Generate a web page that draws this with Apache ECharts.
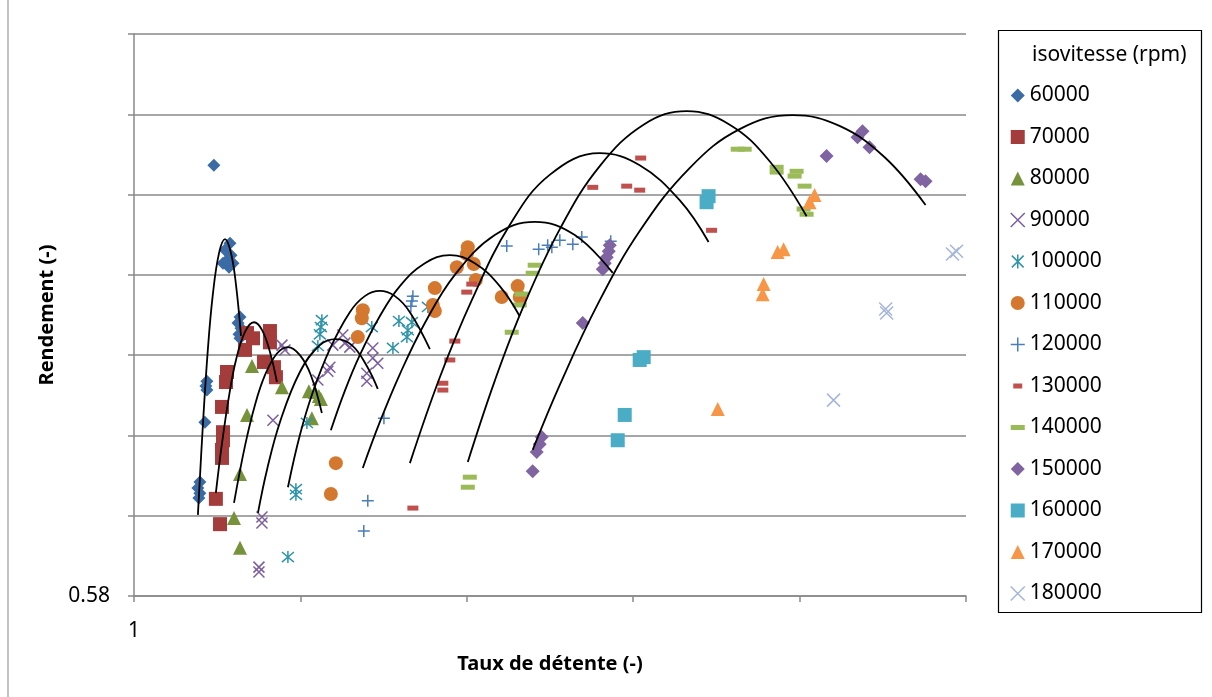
<!DOCTYPE html>
<html>
<head>
<meta charset="utf-8">
<script src="https://cdn.jsdelivr.net/npm/echarts@6/dist/echarts.min.js"></script>
<style>
html,body{margin:0;padding:0;background:#fff;}
#chart{width:1212px;height:697px;}
</style>
</head>
<body>
<div id="chart"></div>
<script>
// ---- data (x = Taux de détente, y = Rendement) ----
const speeds = ['60000','70000','80000','90000','100000','110000','120000','130000','140000','150000','160000','170000','180000'];
const legendTitle = 'isovitesse (rpm)';
const xTickLabels = ['1'];
const yTickLabels = ['0.58'];

const pts60000 = [[1.480,0.6873],[1.577,0.6679],[1.547,0.6662],[1.583,0.6649],[1.553,0.6634],[1.595,0.6629],[1.535,0.6629],[1.571,0.6619],[1.637,0.6495],[1.625,0.6480],[1.643,0.6467],[1.631,0.6452],[1.637,0.6442],[1.438,0.6335],[1.432,0.6323],[1.438,0.6313],[1.426,0.6233],[1.396,0.6084],[1.384,0.6069],[1.396,0.6056],[1.390,0.6044]];
const pts70000 = [[1.817,0.6460],[1.817,0.6432],[1.715,0.6442],[1.679,0.6455],[1.667,0.6413],[1.781,0.6383],[1.841,0.6370],[1.853,0.6345],[1.559,0.6358],[1.553,0.6333],[1.529,0.6271],[1.535,0.6208],[1.535,0.6188],[1.529,0.6164],[1.529,0.6144],[1.492,0.6042],[1.517,0.5979]];
const pts80000 = [[1.709,0.6373],[1.889,0.6320],[1.679,0.6251],[1.637,0.6104],[1.601,0.5994],[1.637,0.5920],[2.051,0.6310],[2.087,0.6308],[2.111,0.6298],[2.123,0.6291],[2.069,0.6243]];
const pts90000 = [[1.889,0.6425],[1.907,0.6413],[1.835,0.6238],[1.769,0.5997],[1.769,0.5982],[1.751,0.5872],[1.751,0.5860],[2.255,0.6450],[2.267,0.6430],[2.195,0.6425],[2.297,0.6420],[2.177,0.6370],[2.165,0.6360],[2.105,0.6338],[2.435,0.6418],[2.435,0.6393],[2.465,0.6380],[2.399,0.6355],[2.399,0.6335]];
const pts100000 = [[2.129,0.6487],[2.123,0.6470],[2.117,0.6452],[2.105,0.6423],[2.429,0.6470],[2.592,0.6485],[2.646,0.6462],[2.640,0.6445],[2.670,0.6482],[2.766,0.6520],[2.556,0.6418],[2.039,0.6231],[1.973,0.6066],[1.973,0.6052],[1.925,0.5897]];
const pts110000 = [[3.006,0.6669],[3.000,0.6652],[2.940,0.6619],[3.042,0.6627],[3.054,0.6587],[2.808,0.6567],[2.796,0.6525],[2.808,0.6510],[2.375,0.6512],[2.369,0.6492],[2.345,0.6445],[2.213,0.6131],[2.183,0.6054],[3.306,0.6572],[3.210,0.6545],[3.318,0.6545]];
const pts120000 = [[2.676,0.6547],[2.670,0.6535],[2.664,0.6522],[2.502,0.6243],[2.405,0.6037],[2.381,0.5962],[3.240,0.6672],[3.432,0.6664],[3.486,0.6674],[3.511,0.6669],[3.559,0.6686],[3.637,0.6676],[3.691,0.6694],[3.865,0.6684]];
const pts130000 = [[4.045,0.6891],[3.757,0.6818],[3.961,0.6821],[4.039,0.6811],[4.471,0.6711],[3.030,0.6577],[3.000,0.6557],[2.928,0.6435],[2.898,0.6388],[2.856,0.6330],[2.856,0.6313],[2.676,0.6019]];
const pts140000 = [[4.628,0.6913],[4.670,0.6913],[4.862,0.6868],[4.862,0.6856],[4.982,0.6858],[4.970,0.6846],[5.030,0.6821],[5.024,0.6764],[5.042,0.6751],[3.408,0.6624],[3.396,0.6604],[3.330,0.6552],[3.318,0.6525],[3.270,0.6457],[3.018,0.6096],[3.006,0.6071]];
const pts150000 = [[5.378,0.6958],[5.348,0.6943],[5.420,0.6918],[5.162,0.6896],[5.727,0.6838],[5.757,0.6833],[3.859,0.6674],[3.853,0.6659],[3.841,0.6644],[3.829,0.6629],[3.817,0.6614],[3.697,0.6480],[3.450,0.6196],[3.438,0.6178],[3.420,0.6159],[3.396,0.6111]];
const pts160000 = [[4.453,0.6796],[4.441,0.6781],[4.063,0.6395],[4.039,0.6388],[3.949,0.6251],[3.907,0.6188]];
const pts170000 = [[5.090,0.6799],[5.060,0.6781],[4.868,0.6657],[4.904,0.6664],[4.784,0.6577],[4.778,0.6552],[4.508,0.6266]];
const pts180000 = [[5.943,0.6659],[5.919,0.6652],[5.517,0.6515],[5.523,0.6505],[5.204,0.6288]];

// fitted trend curves (black)
const trend60000 = [[1.384,0.6002],[1.414,0.6226],[1.444,0.6415],[1.474,0.6552],[1.511,0.6654],[1.547,0.6689],[1.583,0.6654],[1.613,0.6575],[1.643,0.6448]];
const trend70000 = [[1.492,0.6057],[1.529,0.6181],[1.571,0.6298],[1.613,0.6388],[1.667,0.6458],[1.721,0.6482],[1.769,0.6463],[1.817,0.6408],[1.859,0.6333]];
const trend80000 = [[1.601,0.6032],[1.667,0.6174],[1.727,0.6276],[1.787,0.6350],[1.859,0.6404],[1.925,0.6420],[1.997,0.6400],[2.063,0.6350],[2.129,0.6256]];
const trend90000 = [[1.745,0.6007],[1.799,0.6114],[1.877,0.6233],[1.997,0.6358],[2.117,0.6425],[2.213,0.6440],[2.309,0.6425],[2.399,0.6373],[2.465,0.6316]];
const trend100000 = [[1.925,0.6071],[1.997,0.6201],[2.075,0.6308],[2.177,0.6415],[2.297,0.6507],[2.387,0.6547],[2.477,0.6560],[2.568,0.6547],[2.658,0.6507],[2.778,0.6415]];
const trend110000 = [[2.183,0.6213],[2.267,0.6311],[2.357,0.6400],[2.477,0.6497],[2.598,0.6572],[2.748,0.6629],[2.898,0.6649],[3.048,0.6629],[3.198,0.6572],[3.318,0.6497]];
const trend120000 = [[2.375,0.6119],[2.477,0.6233],[2.598,0.6353],[2.748,0.6480],[2.928,0.6600],[3.168,0.6699],[3.408,0.6732],[3.649,0.6699],[3.877,0.6605]];
const trend130000 = [[2.658,0.6131],[2.838,0.6345],[3.030,0.6537],[3.258,0.6724],[3.498,0.6849],[3.799,0.6903],[4.039,0.6873],[4.279,0.6786],[4.453,0.6682]];
const trend140000 = [[3.006,0.6134],[3.168,0.6336],[3.336,0.6517],[3.559,0.6714],[3.799,0.6871],[4.069,0.6976],[4.321,0.7008],[4.580,0.6974],[4.820,0.6883],[5.042,0.6746]];
const trend150000 = [[3.396,0.6164],[3.559,0.6326],[3.787,0.6527],[4.039,0.6709],[4.339,0.6866],[4.640,0.6963],[4.958,0.6998],[5.240,0.6971],[5.511,0.6893],[5.757,0.6774]];

// ---- styling ----
const FONT = 'Noto Sans';
const X_PATH = 'path://M0 0L10 10M10 0L0 10';
const PLUS_PATH = 'path://M5 0L5 10M0 5L10 5';
const STAR_PATH = 'path://M5 0L5 10M0.8 0.8L9.2 9.2M9.2 0.8L0.8 9.2';

const seriesDefs = [
  {name: speeds[0], data: pts60000, color: '#3a6ba5', symbol: 'diamond', size: 13},
  {name: speeds[1], data: pts70000, color: '#a33c3a', symbol: 'rect', size: 14},
  {name: speeds[2], data: pts80000, color: '#76933c', symbol: 'triangle', size: 14},
  {name: speeds[3], data: pts90000, color: '#7b5e9e', symbol: X_PATH, size: 11, stroke: true},
  {name: speeds[4], data: pts100000, color: '#2f93a9', symbol: STAR_PATH, size: 12, stroke: true},
  {name: speeds[5], data: pts110000, color: '#d4782f', symbol: 'circle', size: 14},
  {name: speeds[6], data: pts120000, color: '#4a7ebb', symbol: PLUS_PATH, size: 12, stroke: true},
  {name: speeds[7], data: pts130000, color: '#c0504d', symbol: 'rect', size: [11, 5], legendIcon: 'path://M0 0M14 14M2.5 4.5h9v5h-9z'},
  {name: speeds[8], data: pts140000, color: '#9bbb59', symbol: 'rect', size: [14, 5], legendIcon: 'path://M0 0M14 14M0 4.5h14v5h-14z'},
  {name: speeds[9], data: pts150000, color: '#8064a2', symbol: 'diamond', size: 14},
  {name: speeds[10], data: pts160000, color: '#4bacc6', symbol: 'rect', size: 14},
  {name: speeds[11], data: pts170000, color: '#f79646', symbol: 'triangle', size: 14},
  {name: speeds[12], data: pts180000, color: '#a5b6d8', symbol: X_PATH, size: 13, stroke: true}
];
const trends = [trend60000, trend70000, trend80000, trend90000, trend100000, trend110000, trend120000, trend130000, trend140000, trend150000];

const series = [];
seriesDefs.forEach(d => {
  series.push({
    type: 'scatter', name: d.name, data: d.data, symbol: d.symbol, symbolSize: d.size,
    itemStyle: d.stroke ? {color: 'rgba(0,0,0,0)', borderColor: d.color, borderWidth: 1.5, opacity: 1}
                        : {color: d.color, opacity: 1},
    z: 2, silent: true
  });
});
trends.forEach((t, i) => {
  series.push({
    type: 'line', name: 'trend' + i, data: t, smooth: 0.4, showSymbol: false, symbol: 'none',
    lineStyle: {color: '#000', width: 1.8}, z: 5, silent: true
  });
});

const legendData = seriesDefs.map(d => {
  const item = {name: d.name};
  if (d.legendIcon) item.icon = d.legendIcon;
  if (d.stroke) item.itemStyle = {borderWidth: 1.5, borderColor: d.color, color: 'rgba(0,0,0,0)'};
  return item;
});

const GRID_COLOR = '#898989';
const option = {
  animation: false,
  backgroundColor: '#ffffff',
  textStyle: {fontFamily: FONT},
  grid: {left: 134, right: 246, top: 34, bottom: 101, containLabel: false},
  xAxis: {
    type: 'value', min: 1, max: 6, interval: 1,
    axisLine: {show: true, onZero: false, lineStyle: {color: GRID_COLOR, width: 1.5}},
    axisTick: {show: true, length: 6, lineStyle: {color: GRID_COLOR, width: 1.5}},
    splitLine: {show: false},
    axisLabel: {margin: 25, fontSize: 21, color: '#000', fontFamily: FONT,
      formatter: v => (Math.abs(v - 1) < 1e-9 ? xTickLabels[0] : '')},
    name: 'Taux de détente (-)', nameLocation: 'middle', nameGap: 58,
    nameTextStyle: {fontSize: 20, fontWeight: 'bold', color: '#000', fontFamily: FONT}
  },
  yAxis: {
    type: 'value', min: 0.58, max: 0.72, interval: 0.02,
    axisLine: {show: true, onZero: false, lineStyle: {color: GRID_COLOR, width: 1.5}},
    axisTick: {show: true, length: 6, lineStyle: {color: GRID_COLOR, width: 1.5}},
    splitLine: {show: true, lineStyle: {color: GRID_COLOR, width: 1.5}},
    axisLabel: {margin: 24, fontSize: 21, color: '#000', fontFamily: FONT,
      formatter: v => (Math.abs(v - 0.58) < 1e-9 ? yTickLabels[0] : '')},
    name: 'Rendement (-)', nameLocation: 'middle', nameGap: 76, nameRotate: 90,
    nameTextStyle: {fontSize: 20, fontWeight: 'bold', color: '#000', fontFamily: FONT}
  },
  legend: {
    orient: 'vertical', left: 1010, top: 85, padding: 0,
    itemWidth: 14, itemHeight: 14, itemGap: 20.5, selectedMode: false,
    textStyle: {fontSize: 21, lineHeight: 20, color: '#000', fontFamily: FONT},
    data: legendData
  },
  graphic: [
    {type: 'rect', shape: {x: 998.5, y: 30.5, width: 203, height: 582}, style: {fill: 'none', stroke: '#000', lineWidth: 1.2}, z: 10, silent: true},
    {type: 'text', x: 1032, y: 55, style: {text: legendTitle, fontSize: 21, fontFamily: FONT, fill: '#000', verticalAlign: 'middle'}, z: 10, silent: true},
    {type: 'line', shape: {x1: 8, y1: 0, x2: 8, y2: 697}, style: {stroke: '#9a9a9a', lineWidth: 1.2}, silent: true}
  ],
  series: series
};

const chart = echarts.init(document.getElementById('chart'), null, {renderer: 'canvas'});
chart.setOption(option);
</script>
</body>
</html>
